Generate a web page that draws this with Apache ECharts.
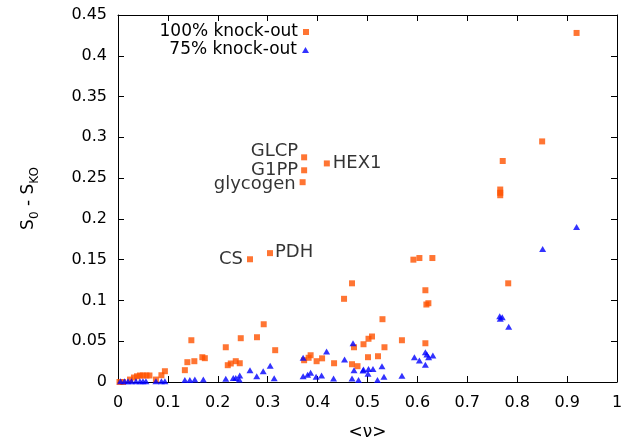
<!DOCTYPE html>
<html><head><meta charset="utf-8">
<script src="https://cdn.jsdelivr.net/npm/echarts@6/dist/echarts.min.js"></script>
<style>html,body{margin:0;padding:0;background:#fff}#c{width:623px;height:442px}</style>
</head><body><div id="c"></div>
<script>
// ---- data ----
const seriesNames = ['100% knock-out', '75% knock-out'];
const x100 = [0.919,0.850,0.771,0.766,0.766,0.766,0.782,0.592,0.604,0.630,0.616,0.618,0.622,0.616,
  0.453,0.469,0.530,0.509,0.502,0.492,0.473,0.534,0.569,0.501,0.521,0.469,0.480,0.433,0.409,0.398,
  0.386,0.382,0.373,0.315,0.292,0.2785,0.246,0.244,0.236,0.226,0.220,0.216,0.147,0.139,0.153,0.169,
  0.174,0.134,0.094,0.087,0.076,0.063,0.057,0.050,0.044,0.038,0.032,0.024,0.010,0.003];
const y100 = [0.428,0.295,0.271,0.236,0.232,0.229,0.121,0.150,0.152,0.152,0.1125,0.095,0.0966,0.0475,
  0.102,0.121,0.077,0.0558,0.053,0.0463,0.0426,0.0426,0.0512,0.0304,0.0316,0.0218,0.0194,0.023,0.029,0.0255,
  0.0328,0.0297,0.0267,0.039,0.0708,0.0549,0.0537,0.023,0.0255,0.0227,0.0206,0.0426,0.0512,0.0243,0.0255,0.0304,
  0.0292,0.0145,0.0132,0.0083,0.003,0.008,0.008,0.008,0.008,0.007,0.0055,0.003,0.000,0.000];
// annotated points of the 100% knock-out series
const annotNames = ['GLCP','G1PP','glycogen','HEX1','PDH','CS'];
const annotX = [0.373,0.373,0.370,0.4185,0.3046,0.2645];
const annotY = [0.2755,0.2596,0.245,0.268,0.158,0.1505];

const x75 = [0.919,0.851,0.765,0.770,0.766,0.783,0.594,0.604,0.616,0.619,0.6225,0.631,0.616,0.569,0.533,
  0.529,0.520,0.491,0.492,0.502,0.511,0.501,0.482,0.471,0.473,0.469,0.454,0.432,0.418,0.408,0.397,0.386,
  0.380,0.371,0.371,0.313,0.305,0.291,0.278,0.2645,0.244,0.243,0.236,0.231,0.216,0.171,0.154,0.144,0.134,
  0.094,0.087,0.076,0.056,0.050,0.044,0.036,0.027,0.020,0.013,0.005];
const y75 = [0.190,0.163,0.0806,0.0794,0.0775,0.0676,0.0304,0.0263,0.0365,0.0337,0.0304,0.0325,0.021,0.0076,0.0064,
  0.0194,0.0025,0.014,0.0153,0.016,0.016,0.010,0.0025,0.0475,0.0145,0.0043,0.0276,0.0043,0.0374,0.008,0.0064,0.0113,
  0.0088,0.0071,0.0297,0.0047,0.020,0.0132,0.0071,0.0145,0.008,0.003,0.005,0.005,0.004,0.003,0.003,0.0025,0.0025,
  0.001,0.001,0.001,0.001,0.001,0.001,0.001,0.001,0.001,0.001,0.001];

const xTickLabels = ['0','0.1','0.2','0.3','0.4','0.5','0.6','0.7','0.8','0.9','1'];
const yTickLabels = ['0','0.05','0.1','0.15','0.2','0.25','0.3','0.35','0.4','0.45'];

// ---- styles ----
const FONT = 'DejaVu Sans';
const ORANGE = '#ff5200';
const BLUE = '#0000ff';
const labelPlace = {
  GLCP: {position:'left', distance:3, offset:[0,-6]},
  G1PP: {position:'left', distance:3, offset:[0,0]},
  glycogen: {position:'left', distance:4, offset:[0,2]},
  HEX1: {position:'right', distance:3, offset:[0,0]},
  PDH: {position:'right', distance:2, offset:[0,-1]},
  CS: {position:'left', distance:4, offset:[0,0]}
};

const data100 = x100.map((x,i)=>[x,y100[i]]);
annotNames.forEach((n,i)=>{
  const p = labelPlace[n];
  data100.push({value:[annotX[i],annotY[i]], label:{show:true, formatter:n, position:p.position,
    distance:p.distance, offset:p.offset, fontSize:18, color:'#000', fontFamily:FONT}});
});
const data75 = x75.map((x,i)=>[x,y75[i]]);

const axisCommon = {
  type:'value',
  axisLine:{show:true, onZero:false, lineStyle:{color:'#000', width:1}},
  axisTick:{show:true, inside:true, length:6, lineStyle:{color:'#000', width:1}},
  splitLine:{show:false}
};
const labelStyle = {fontSize:16, color:'#000', fontFamily:FONT};

const chart = echarts.init(document.getElementById('c'), null, {renderer:'canvas'});
chart.setOption({
  animation:false,
  backgroundColor:'#fff',
  grid:{left:118, right:6, top:15, bottom:60, containLabel:false, outerBoundsMode:'none'},
  legend:[
    {data:[seriesNames[0]], right:314, top:23, padding:0, align:'right', orient:'vertical',
     itemWidth:6, itemHeight:6, textStyle:{fontSize:17, color:'#000', fontFamily:FONT, lineHeight:18}},
    {data:[seriesNames[1]], right:314, top:41, padding:0, align:'right', orient:'vertical',
     itemWidth:7, itemHeight:6, textStyle:{fontSize:17, color:'#000', fontFamily:FONT, lineHeight:18}}
  ],
  xAxis:[
    Object.assign({}, axisCommon, {min:0, max:1, interval:0.1, position:'bottom',
      axisLabel:Object.assign({margin:13, formatter:v=>xTickLabels[Math.round(v*10)]}, labelStyle),
      name:'<ν>', nameLocation:'middle', nameGap:42,
      nameTextStyle:{fontSize:17, color:'#000', fontFamily:FONT}}),
    Object.assign({}, axisCommon, {min:0, max:1, interval:0.1, position:'top', axisLabel:{show:false}})
  ],
  yAxis:[
    Object.assign({}, axisCommon, {min:0, max:0.45, interval:0.05, position:'left',
      axisLabel:Object.assign({margin:11, formatter:v=>yTickLabels[Math.round(v*20)]}, labelStyle),
      name:'{m|S}{s|0}{m| - S}{s|KO}', nameLocation:'middle', nameGap:80,
      nameTextStyle:{rich:{
        m:{fontSize:17, color:'#000', fontFamily:FONT, lineHeight:18, verticalAlign:'top'},
        s:{fontSize:12, color:'#000', fontFamily:FONT, lineHeight:12, verticalAlign:'top', padding:[9,0,0,0]}
      }}}),
    Object.assign({}, axisCommon, {min:0, max:0.45, interval:0.05, position:'right', axisLabel:{show:false}})
  ],
  series:[
    {name:seriesNames[0], type:'scatter', xAxisIndex:0, yAxisIndex:0, symbol:'rect', symbolSize:6,
     itemStyle:{color:ORANGE}, data:data100, z:2},
    {name:seriesNames[1], type:'scatter', xAxisIndex:0, yAxisIndex:0, symbol:'triangle', symbolSize:[7,6],
     itemStyle:{color:BLUE}, data:data75, z:3}
  ]
});
</script></body></html>
